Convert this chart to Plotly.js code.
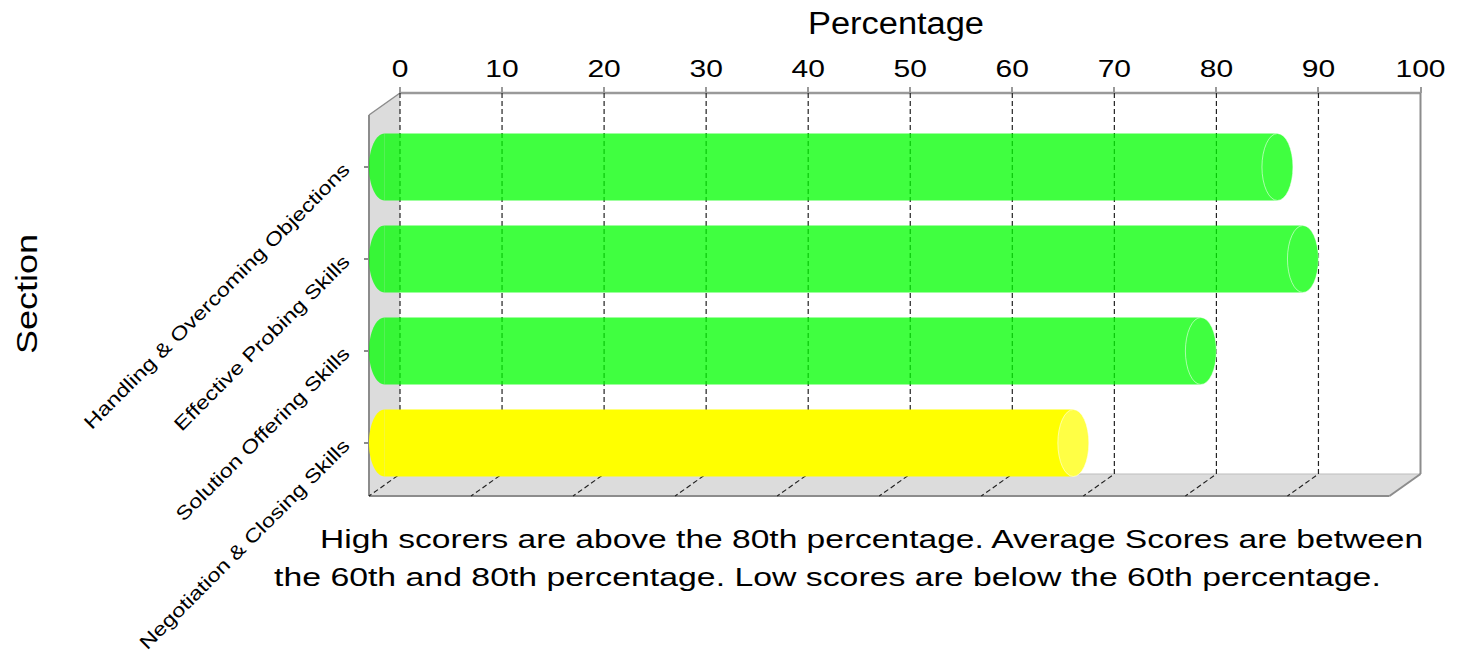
<!DOCTYPE html>
<html>
<head>
<meta charset="utf-8">
<script src="https://cdn.plot.ly/plotly-3.0.1.min.js"></script>
<style>
html, body { margin: 0; padding: 0; background: #ffffff; }
#chart { width: 1462px; height: 650px; }
</style>
</head>
<body>
<div id="chart"></div>
<script>
// ---------------- data ----------------
const sections = [
  'Handling & Overcoming Objections',
  'Effective Probing Skills',
  'Solution Offering Skills',
  'Negotiation & Closing Skills'
];
const percentages = [87.5, 90, 80, 67.5];
const tickValues = [0, 10, 20, 30, 40, 50, 60, 70, 80, 90, 100];
const tickLabels = ['0', '10', '20', '30', '40', '50', '60', '70', '80', '90', '100'];
const highThreshold = 80;
const lowThreshold = 60;
const noteLines = [
  'High scorers are above the 80th percentage. Average Scores are between',
  'the 60th and 80th percentage. Low scores are below the 60th percentage.'
];

// ---------------- style / geometry ----------------
const FONT = 'Liberation Sans, Arial, Helvetica, sans-serif';
const W = 1462, H = 650;
const M = { l: 360, r: 30, t: 88, b: 150 };
const plotW = W - M.l - M.r, plotH = H - M.t - M.b;
const backLeftPx = 400, pxPerUnit = 10.205;
const backTopPx = 93, backBottomPx = 474;
const depthX = 31, depthY = 22;
const firstRowPx = 167, rowPx = 92;
const barThickness = 0.728;   // in category units
const capRx = 15.5 / pxPerUnit; // in axis units

const xRange = [(M.l - backLeftPx) / pxPerUnit, (W - M.r - backLeftPx) / pxPerUnit];
const midShift = (depthX / 2) / pxPerUnit;
const x2Range = [xRange[0] + midShift, xRange[1] + midShift];
const yRange = [(H - M.b - firstRowPx) / rowPx, -(firstRowPx - M.t) / rowPx];

const px = v => (v - M.l) / plotW;          // pixel -> paper x
const py = v => (H - M.b - v) / plotH;       // pixel -> paper y
const backRightPx = backLeftPx + 100 * pxPerUnit;

function colorFor(v) {
  if (v >= highThreshold) return 'rgba(0,255,0,0.75)';
  if (v >= lowThreshold) return '#ffff00';
  return 'rgba(255,0,0,0.75)';
}
function capColorFor(v) {
  if (v >= highThreshold) return '#40ff40';
  if (v >= lowThreshold) return '#ffff45';
  return '#ff4040';
}

const shapes = [];
const GRAY = '#8c8c8c', WALL = '#dcdcdc';
function ppath(pts) {
  return 'M ' + pts.map(p => px(p[0]).toFixed(5) + ',' + py(p[1]).toFixed(5)).join(' L ') + ' Z';
}
function pline(p0, p1, color, width) {
  shapes.push({ type: 'line', xref: 'paper', yref: 'paper', layer: 'below',
    x0: px(p0[0]), y0: py(p0[1]), x1: px(p1[0]), y1: py(p1[1]),
    line: { color: color, width: width } });
}
// left wall
shapes.push({ type: 'path', xref: 'paper', yref: 'paper', layer: 'below',
  path: ppath([[backLeftPx, backTopPx], [backLeftPx - depthX, backTopPx + depthY],
               [backLeftPx - depthX, backBottomPx + depthY], [backLeftPx, backBottomPx]]),
  fillcolor: WALL, line: { width: 0 } });
// floor
shapes.push({ type: 'path', xref: 'paper', yref: 'paper', layer: 'below',
  path: ppath([[backLeftPx, backBottomPx], [backRightPx, backBottomPx],
               [backRightPx - depthX, backBottomPx + depthY], [backLeftPx - depthX, backBottomPx + depthY]]),
  fillcolor: WALL, line: { width: 0 } });
pline([backLeftPx, backBottomPx], [backRightPx, backBottomPx], '#bdbdbd', 1);
pline([backLeftPx, backTopPx], [backRightPx, backTopPx], '#9a9a9a', 2.5);
pline([backLeftPx - depthX, backTopPx + depthY], [backLeftPx, backTopPx], GRAY, 1.5);
pline([backLeftPx - depthX, backTopPx + depthY], [backLeftPx - depthX, backBottomPx + depthY], GRAY, 2);
pline([backLeftPx - depthX, backBottomPx + depthY], [backRightPx - depthX, backBottomPx + depthY], GRAY, 2);
pline([backRightPx, backBottomPx], [backRightPx - depthX, backBottomPx + depthY], GRAY, 2);
pline([backRightPx, backTopPx], [backRightPx, backBottomPx], GRAY, 2);

// grid lines (back wall + floor), positioned by the x axis
tickValues.forEach(v => {
  if (v >= 100) return;
  const d = depthX / pxPerUnit;
  shapes.push({ type: 'path', xref: 'x', yref: 'paper', layer: 'below',
    path: `M ${v},${py(backTopPx)} L ${v},${py(backBottomPx)} L ${v - d},${py(backBottomPx + depthY)}`,
    line: { color: '#222', width: 1.2, dash: '5px,3px' } });
});

// cylinder caps, positioned by x2 / y axes
const k = 0.5523;
percentages.forEach((v, i) => {
  const ry = barThickness / 2;
  const t = i - ry, b = i + ry;
  shapes.push({ type: 'path', xref: 'x2', yref: 'y', layer: 'above',
    path: `M 0,${t} C ${-k * capRx},${t} ${-capRx},${i - k * ry} ${-capRx},${i} C ${-capRx},${i + k * ry} ${-k * capRx},${b} 0,${b} Z`,
    fillcolor: colorFor(v), line: { width: 0 } });
  shapes.push({ type: 'circle', xref: 'x2', yref: 'y', layer: 'above',
    x0: v - capRx, x1: v + capRx, y0: t, y1: b,
    fillcolor: capColorFor(v), line: { color: 'rgba(255,255,255,0.55)', width: 1 } });
});

const trace = {
  type: 'bar', orientation: 'h',
  x: percentages, y: sections,
  xaxis: 'x2', yaxis: 'y',
  width: barThickness,
  marker: { color: percentages.map(colorFor), line: { width: 0 } },
  hoverinfo: 'skip', showlegend: false
};

const layout = {
  width: W, height: H,
  margin: M,
  paper_bgcolor: '#ffffff', plot_bgcolor: 'rgba(0,0,0,0)',
  font: { family: FONT, color: '#000' },
  showlegend: false,
  xaxis: {
    range: xRange, side: 'top', anchor: 'free', position: py(backTopPx),
    tickmode: 'array', tickvals: tickValues, ticktext: tickLabels,
    ticks: 'outside', ticklen: 6, tickwidth: 2, tickcolor: '#9a9a9a',
    ticklabelstandoff: 0,
    tickfont: { family: FONT, size: 24, color: '#000' },
    showgrid: false, zeroline: false, showline: false, fixedrange: true,
    title: { text: 'Percentage', font: { family: FONT, size: 31, color: '#000' }, standoff: 10 }
  },
  xaxis2: { overlaying: 'x', range: x2Range, visible: false, fixedrange: true },
  yaxis: {
    type: 'category', categoryorder: 'array', categoryarray: sections,
    range: yRange, anchor: 'free', position: px(backLeftPx - depthX),
    ticks: 'outside', ticklen: 5, tickwidth: 2, tickcolor: '#8c8c8c',
    tickangle: -45, ticklabelstandoff: 16,
    tickfont: { family: FONT, size: 19, color: '#000' },
    showgrid: false, zeroline: false, showline: false, fixedrange: true,
    title: { text: 'Section', font: { family: FONT, size: 30, color: '#000' }, standoff: 82 }
  },
  shapes: shapes,
  annotations: [
    { xref: 'paper', yref: 'paper', x: px(318), y: py(539), xanchor: 'left', yanchor: 'middle',
      align: 'left', showarrow: false, text: noteLines[0],
      font: { family: FONT, size: 26, color: '#000' } },
    { xref: 'paper', yref: 'paper', x: px(272), y: py(577), xanchor: 'left', yanchor: 'middle',
      align: 'left', showarrow: false, text: noteLines[1],
      font: { family: FONT, size: 26, color: '#000' } }
  ]
};

function stretch(root, selector, factors) {
  root.querySelectorAll(selector).forEach((t, i) => {
    const f = Array.isArray(factors) ? factors[Math.min(i, factors.length - 1)] : factors;
    const len = t.getComputedTextLength();
    if (len > 0) {
      t.setAttribute('textLength', (len * f).toFixed(2));
      t.setAttribute('lengthAdjust', 'spacingAndGlyphs');
    }
  });
}

Plotly.newPlot('chart', [trace], layout, { staticPlot: true, displayModeBar: false }).then(gd => {
  stretch(gd, '.xtick text', 1.25);
  stretch(gd, '.ytick text', 1.24);
  stretch(gd, 'text.xtitle', 1.11);
  stretch(gd, 'text.ytitle', 1.2);
  stretch(gd, 'text.annotation-text', [1.29, 1.30]);
});
</script>
</body>
</html>
